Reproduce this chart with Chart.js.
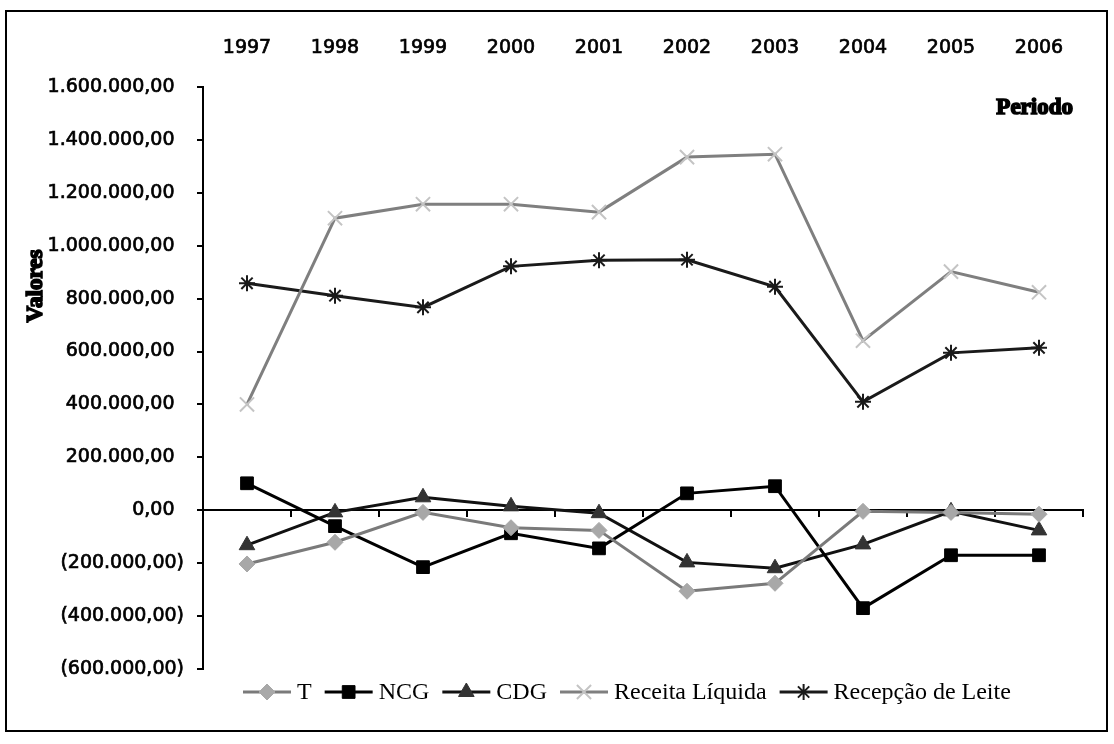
<!DOCTYPE html>
<html>
<head>
<meta charset="utf-8">
<script src="https://cdn.jsdelivr.net/npm/chart.js@4/dist/chart.umd.min.js"></script>
<style>
  body { margin: 0; background: #fff; }
  #wrap { width: 1114px; height: 744px; }
</style>
</head>
<body>
<div id="wrap"><canvas id="chart" width="1114" height="744"></canvas></div>
<script>
const years = ["1997", "1998", "1999", "2000", "2001", "2002", "2003", "2004", "2005", "2006"];
const tValues = [-203000, -121000, -8000, -66000, -76000, -306000, -276000, -4000, -8000, -15000];
const ncgValues = [102000, -60000, -215000, -87000, -144000, 64000, 91000, -370000, -170000, -170000];
const cdgValues = [-132000, -8000, 49000, 15000, -11000, -197000, -219000, -129000, -4000, -76000];
const receitaValues = [400000, 1104000, 1157000, 1157000, 1127000, 1335000, 1346000, 641000, 902000, 824000];
const recepcaoValues = [858000, 811000, 767000, 922000, 945000, 947000, 845000, 410000, 595000, 614000];
const yMin = -600000, yMax = 1600000, yStep = 200000;

const tickFont = { family: "'DejaVu Sans', sans-serif", size: 19, weight: "normal" };

// 1.600.000,00 / (200.000,00)
function fmt(v) {
  const parts = Math.abs(v).toFixed(2).split(".");
  const s = parts[0].replace(/\B(?=(\d{3})+(?!\d))/g, ".") + "," + parts[1];
  return v < 0 ? "(" + s + ")" : s + "\u2002";
}

const pageDeco = {
  id: "pageDeco",
  beforeDraw(chart) {
    const c = chart.ctx;
    c.save();
    c.fillStyle = "#fff";
    c.fillRect(0, 0, chart.width, chart.height);
    c.strokeStyle = "#000";
    c.lineWidth = 2;
    c.strokeRect(6, 11, 1101, 720);
    c.restore();
  },
  afterDraw(chart) {
    const c = chart.ctx;
    c.save();
    c.fillStyle = "#000";
    c.strokeStyle = "#000";
    c.lineWidth = 1.6;
    c.font = "bold 23px 'Liberation Serif', serif";
    c.textBaseline = "middle";
    c.textAlign = "right";
    c.fillText("Periodo", 1073, 108);
    c.strokeText("Periodo", 1073, 108);
    c.translate(36, 286);
    c.rotate(-Math.PI / 2);
    c.textAlign = "center";
    c.fillText("Valores", 0, 0);
    c.strokeText("Valores", 0, 0);
    c.restore();

    // legend: line + marker, then label
    c.save();
    c.font = "24px 'Liberation Serif', serif";
    c.textBaseline = "middle";
    c.textAlign = "left";
    let x = 243;
    const y = 692;
    chart.data.datasets.forEach(ds => {
      c.strokeStyle = ds.borderColor;
      c.lineWidth = 3;
      c.beginPath();
      c.moveTo(x, y);
      c.lineTo(x + 48, y);
      c.stroke();
      c.fillStyle = ds.pointBackgroundColor;
      c.strokeStyle = ds.pointBorderColor;
      c.lineWidth = ds.pointBorderWidth;
      Chart.helpers.drawPoint(c, { pointStyle: ds.pointStyle, radius: ds.pointRadius, rotation: 0, borderWidth: ds.pointBorderWidth }, x + 24, y);
      c.fillStyle = "#000";
      c.fillText(ds.label, x + 54, y + 1);
      x += 54 + c.measureText(ds.label).width + 13;
    });
    c.restore();
  }
};

function series(label, data, line, mark, style, r, bw) {
  return {
    label, data,
    borderColor: line, borderWidth: 3,
    pointStyle: style, pointRadius: r, pointHoverRadius: r,
    pointBackgroundColor: mark, pointBorderColor: mark, pointBorderWidth: bw,
    tension: 0, fill: false
  };
}

new Chart(document.getElementById("chart"), {
  type: "line",
  data: {
    labels: years,
    datasets: [
      series("T", tValues, "#7a7a7a", "#a8a8a8", "rectRot", 8, 1),
      series("NCG", ncgValues, "#000000", "#000000", "rect", 9, 1),
      series("CDG", cdgValues, "#111111", "#333333", "triangle", 9, 1),
      series("Receita Líquida", receitaValues, "#7f7f7f", "#c4c4c4", "crossRot", 10, 2),
      series("Recepção de Leite", recepcaoValues, "#1a1a1a", "#1a1a1a", "star", 8, 2)
    ]
  },
  options: {
    responsive: false,
    animation: false,
    layout: { padding: { left: 0, top: 0, right: 31, bottom: 75 } },
    scales: {
      x: {
        type: "category",
        position: { y: 0 },
        offset: true,
        grid: { offset: true, drawOnChartArea: false, color: "#000", lineWidth: 2, tickLength: 6 },
        border: { color: "#000", width: 2 },
        ticks: { display: false }
      },
      x2: {
        type: "category",
        position: "top",
        offset: true,
        grid: { display: false },
        border: { display: false },
        ticks: { color: "#000", font: tickFont, padding: 20, maxRotation: 0, textStrokeColor: "#000", textStrokeWidth: 0.7 },
        afterFit: s => { s.height = 87; }
      },
      y: {
        min: yMin,
        max: yMax,
        grid: { drawOnChartArea: false, color: "#000", lineWidth: 2, tickLength: 6 },
        border: { color: "#000", width: 2 },
        ticks: { stepSize: yStep, color: "#000", font: tickFont, padding: 13, textStrokeColor: "#000", textStrokeWidth: 0.7, callback: v => fmt(v) },
        afterFit: s => { s.width = 203; }
      }
    },
    plugins: {
      legend: { display: false },
      tooltip: { enabled: false }
    }
  },
  plugins: [pageDeco]
});
</script>
</body>
</html>
